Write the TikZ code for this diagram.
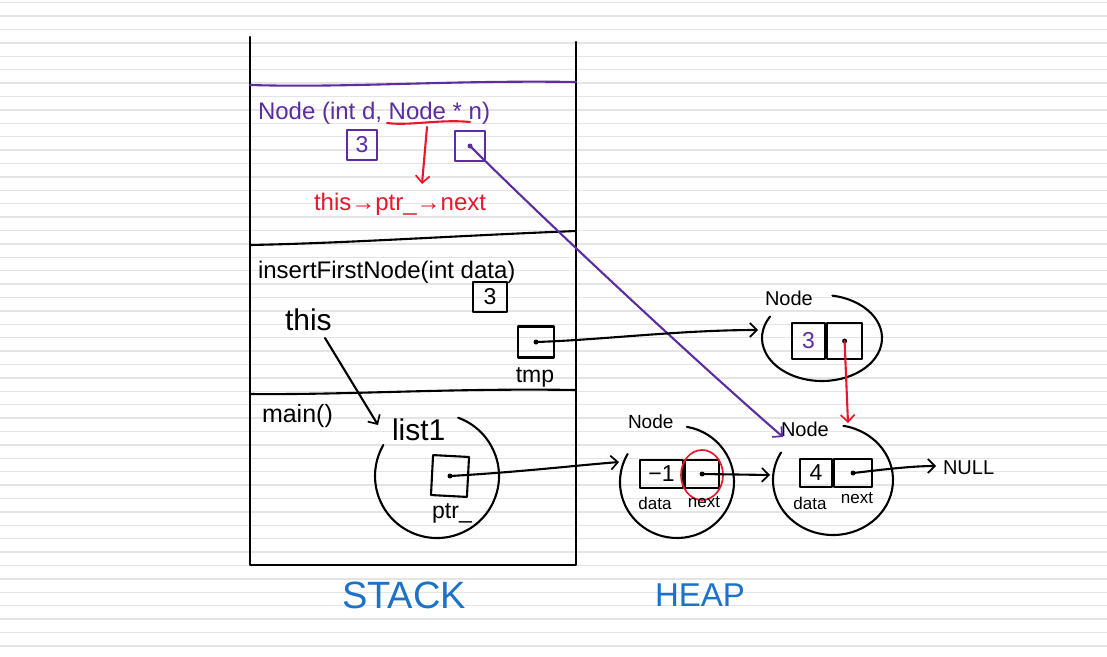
\documentclass[tikz,border=0pt]{standalone}
\usepackage{fontspec}
\setmainfont{Liberation Sans}
\usetikzlibrary{arrows.meta,positioning,calc}
\definecolor{pur}{RGB}{92,44,160}
\definecolor{rd}{RGB}{232,24,42}
\definecolor{bl}{RGB}{28,114,201}
\definecolor{rule}{RGB}{228,228,228}
\newcommand{\fsz}[1]{\fontsize{#1}{#1}\selectfont}
\tikzset{
  ink/.style={line width=2.1pt, line cap=round, line join=round},
  hand/.style={inner sep=0pt, outer sep=0pt},
  arr/.style={ink, -{Straight Barb[length=7pt,width=14pt,line width=1.7pt]}},
  cellbox/.style={draw, ink, minimum height=28pt, inner sep=0pt, font=\fsz{23}},
  varbox/.style={draw, ink, minimum width=30pt, minimum height=30pt, inner sep=0pt, font=\fsz{23}},
  blob/.style={ink},
}
\begin{document}
\begin{tikzpicture}[x=1pt,y=-1pt]
\useasboundingbox (0,0) rectangle (1107,656);
\fill[white] (0,0) rectangle (1107,656);
% ruled paper
\foreach \k in {0,...,48} {
  \draw[rule, line width=1.4pt] (0,{2.7+13.4*\k}) -- (1107,{2.7+13.4*\k});
}
% stack frame
\coordinate (stl) at (250,37);
\coordinate (str) at (576,42);
\coordinate (sbl) at (250,565);
\coordinate (sbr) at (576,565);
\draw[ink] (stl) -- (sbl) -- (sbr) -- (str);
\draw[ink, pur] (250,85) .. controls (350,88) and (450,80) .. (576,82);
\draw[ink] (250,245) .. controls (350,243) and (450,236) .. (576,231);
\draw[ink] (250,394) .. controls (350,395) and (450,388) .. (576,390);

% ---- Node frame
\node[hand, pur, font=\fsz{24}, anchor=base west] (nodesig) at (258,119) {Node (int d, Node * n)};
\coordinate (ulA) at (387,123);
\coordinate (ulB) at (470,122);
\draw[ink, rd] (ulA) .. controls (410,126) and (440,119) .. (ulB);
\coordinate (rarA) at (427,127);
\coordinate (rarB) at (422,184);
\draw[arr, rd] (rarA) -- (rarB);
\node[hand, rd, font=\fsz{24}, anchor=base west] (thisnext) at (314,210) {this→ptr\_→next};
\node[varbox, pur] (pd) at (362,145) {3};
\node[varbox, pur] (pn) at (470,146) {};
\fill[pur] (pn.center) circle (2.5pt);

% ---- insertFirstNode frame
\node[hand, font=\fsz{24}, anchor=base west] (ifn) at (258,278) {insertFirstNode(int data)};
\node[varbox, minimum width=34pt] (idata) at (490,297) {3};
\node[hand, font=\fsz{30}, anchor=base west] (thislbl) at (285,330) {this};
\node[varbox, minimum width=36pt, minimum height=31pt] (tmpbox) at (536,342) {};
\fill (tmpbox.center) circle (2.5pt);
\node[hand, font=\fsz{23}, anchor=base] (tmplbl) at (535,382) {tmp};

% ---- main frame
\node[hand, font=\fsz{25}, anchor=base west] (mainlbl) at (262,422) {main()};
\node[hand, font=\fsz{30}, anchor=base west] (list1) at (392,440) {list1};
\draw[blob] (437,476) ++(-70:62 and 62) arc[start angle=-70, end angle=210, x radius=62, y radius=62];
\node[varbox, minimum width=36pt, minimum height=40pt, rotate=-3] (ptrbox) at (450,476) {};
\fill (ptrbox.center) circle (2.5pt);
\node[hand, font=\fsz{23}, anchor=base] (ptrlbl) at (452,518) {ptr\_};

% ---- heap: node -1
\node[hand, font=\fsz{19}, anchor=base west] (n1lbl) at (628,428) {Node};
\draw[blob] (677,482) ++(-80:57 and 56) arc[start angle=-80, end angle=210, x radius=57, y radius=56];
\node[cellbox, minimum width=43pt] (n1d) at (661.5,474) {−1};
\node[cellbox, minimum width=34pt, anchor=west] (n1n) at (n1d.east) {};
\fill (n1n.center) circle (2.5pt);
\draw[rd, line width=1.7pt] (702,475) ellipse (21 and 25);
\node[hand, font=\fsz{17}, anchor=base] (n1dl) at (655,509) {data};
\node[hand, font=\fsz{17}, anchor=base] (n1nl) at (704,507) {next};

% ---- heap: node 4
\node[hand, font=\fsz{20}, anchor=base west] (n4lbl) at (781,436) {Node};
\draw[blob] (833,480) ++(-80:60 and 55) arc[start angle=-80, end angle=210, x radius=60, y radius=55];
\node[cellbox, minimum width=32pt] (n4d) at (816,473) {4};
\node[cellbox, minimum width=38pt, anchor=west] (n4n) at (n4d.east) {};
\fill (n4n.center) circle (2.5pt);
\node[hand, font=\fsz{17}, anchor=base] (n4dl) at (810,509) {data};
\node[hand, font=\fsz{17}, anchor=base] (n4nl) at (857,503) {next};
\node[hand, font=\fsz{20}, anchor=base west] (null) at (943,474) {NULL};

% ---- heap: node 3
\node[hand, font=\fsz{20}, anchor=base west] (n3lbl) at (765,305) {Node};
\draw[blob] (822,338) ++(-80:60 and 43) arc[start angle=-80, end angle=210, x radius=60, y radius=43];
\node[cellbox, minimum width=33pt, minimum height=36pt, text=pur] (n3d) at (808.5,341) {3};
\node[cellbox, minimum width=35pt, minimum height=36pt, anchor=west] (n3n) at (n3d.east) {};
\fill (n3n.center) circle (2.5pt);

% ---- connectors
\coordinate (n4top) at (848,423);
\draw[arr, rd] (n3n.center) -- (n4top);
\coordinate (n4nw) at (783,437);
\draw[arr, pur] (pn.center) .. controls (560,235) and (700,365) .. (n4nw);
\coordinate (n3left) at (758,330);
\draw[arr] (tmpbox.center) .. controls (600,340) and (680,330) .. (n3left);
\coordinate (thisA) at (325,338);
\coordinate (thisB) at (378,425);
\draw[arr] (thisA) -- (thisB);
\coordinate (n1left) at (619,462);
\draw[arr] (ptrbox.center) .. controls (520,472) and (570,466) .. (n1left);
\coordinate (n4left) at (770,475);
\draw[arr] (n1n.center) -- (n4left);
\coordinate (nullleft) at (936,466);
\draw[arr] (n4n.center) .. controls (880,470) and (910,466) .. (nullleft);

% ---- titles
\node[hand, bl, font=\fsz{38}, anchor=base west] (stack) at (342,608) {STACK};
\node[hand, bl, font=\fsz{33}, anchor=base west] (heap) at (655,606) {HEAP};
\end{tikzpicture}
\end{document}
